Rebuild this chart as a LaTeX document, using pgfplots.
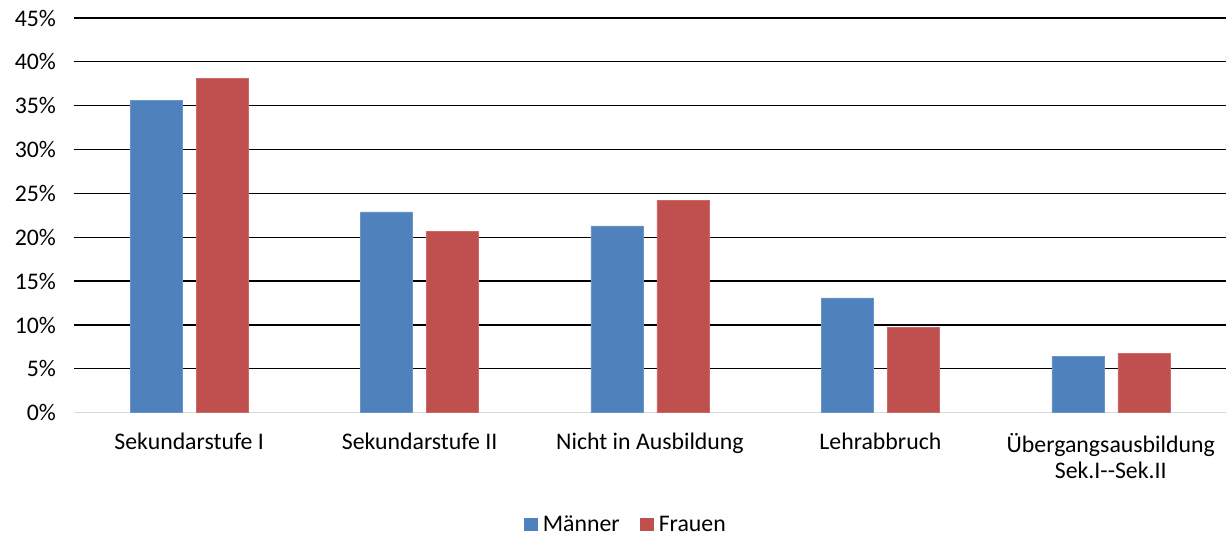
\documentclass[border=0pt]{standalone}
\usepackage{fontspec}
\setmainfont{Carlito}
\usepackage{pgfplots}
\pgfplotsset{compat=1.18}
\definecolor{mblue}{HTML}{4F81BD}
\definecolor{fred}{HTML}{C0504D}
\begin{document}
\begin{tikzpicture}[font=\fontsize{23.8}{25.7}\selectfont]
\useasboundingbox (0,0) rectangle (1226pt,537pt);
\begin{axis}[
  at={(74pt,124.3pt)}, anchor=south west,
  scale only axis, width=1152pt, height=394.7pt,
  ybar=14pt, bar width=52pt,
  xmin=-0.5, xmax=4.5, ymin=0, ymax=45,
  xtick={0,...,4},
  xticklabels={Sekundarstufe I, Sekundarstufe II, Nicht in Ausbildung, Lehrabbruch, {Übergangsausbildung\\Sek.I\mbox{-}\mbox{-}Sek.II}},
  xticklabel style={align=center, yshift=-17pt},
  ytick={5,10,...,45},
  extra y ticks={0},
  extra y tick style={grid=none},
  yticklabel={\pgfmathprintnumber{\tick}\%},
  yticklabel style={xshift=-14.5pt},
  /pgf/number format/assume math mode=true,
  ymajorgrids,
  major grid style={black, line width=1.3pt},
  axis x line*=bottom, axis y line*=left,
  y axis line style={draw=none},
  x axis line style={draw=black!15, line width=1.3pt},
  major tick length=0pt,
  tick style={draw=none},
  tick label style={font=\fontsize{23.8}{25.7}\selectfont},
  legend style={at={(0.479,-0.284)}, anchor=center, draw=none, legend columns=2,
    inner sep=1pt, font=\fontsize{23.8}{25.7}\selectfont,
    /tikz/every even column/.append style={column sep=18pt}},
  legend image code/.code={\fill[#1, draw=none] (0pt,-6.5pt) rectangle (14pt,6.5pt); \path[draw=none, fill=none] (0pt,0pt) -- (17pt,0pt);},
]
\addplot[fill=mblue, draw=mblue!85!white] coordinates {(0,35.6) (1,22.9) (2,21.3) (3,13.1) (4,6.4)};
\addplot[fill=fred, draw=fred!85!white] coordinates {(0,38.1) (1,20.7) (2,24.2) (3,9.7) (4,6.8)};
\legend{Männer, Frauen}
\end{axis}
\end{tikzpicture}
\end{document}
